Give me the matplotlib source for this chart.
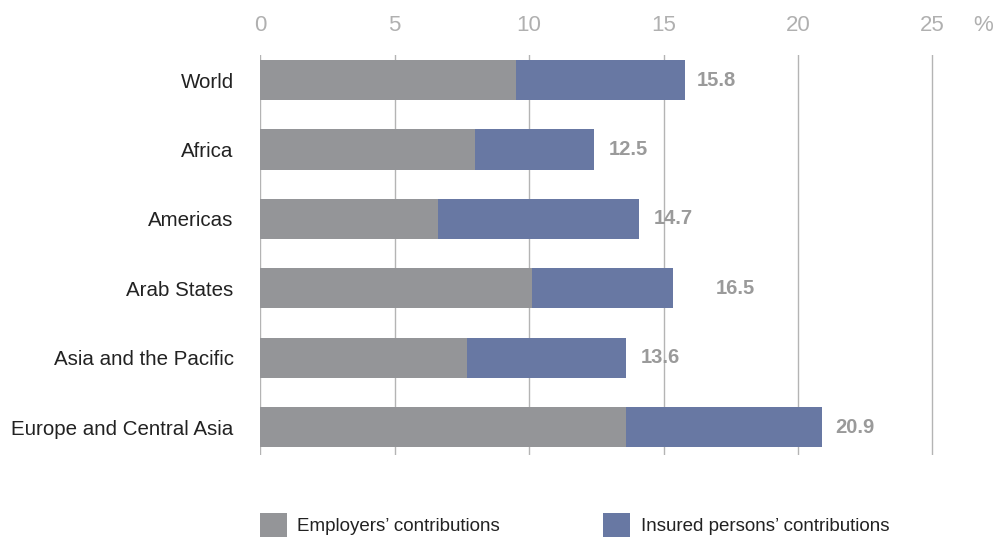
import matplotlib
matplotlib.use("Agg")
import matplotlib.pyplot as plt

plt.rcParams["font.family"] = ["Liberation Sans", "DejaVu Sans"]

regions = ["World", "Africa", "Americas", "Arab States",
           "Asia and the Pacific", "Europe and Central Asia"]
employers = [9.5, 8.0, 6.6, 10.1, 7.7, 13.6]
insured = [6.3, 4.4, 7.5, 5.25, 5.9, 7.3]
total_labels = ["15.8", "12.5", "14.7", "16.5", "13.6", "20.9"]
label_gap = [0.45, 0.55, 0.55, 1.6, 0.55, 0.5]
ticks = [0, 5, 10, 15, 20, 25]

grey = "#949598"
blue = "#6878a3"

fig = plt.figure(figsize=(9.98, 5.43), dpi=100)
# 26.9 px per unit, axes a little wider than 25 so the last gridline shows
ax = fig.add_axes([260 / 998, 1 - 455 / 543, 26.9 * 25.2 / 998, 400 / 543])

y = list(range(len(regions)))
b1 = ax.barh(y, employers, height=0.58, color=grey, zorder=2,
             label="Employers\u2019 contributions")
b2 = ax.barh(y, insured, left=employers, height=0.58, color=blue, zorder=2,
             label="Insured persons\u2019 contributions")

for i in y:
    tot = employers[i] + insured[i]
    ax.text(tot + label_gap[i], i, total_labels[i], va="center", ha="left",
            fontsize=14.5, fontweight="bold", color="#9a9a9a", zorder=3)

ax.set_xlim(0, 25.2)
ax.set_ylim(5.4, -0.36)
ax.set_xticks(ticks)
ax.xaxis.tick_top()
ax.tick_params(axis="x", length=0, pad=14, labelsize=16, labelcolor="#b0b0b0")
ax.tick_params(axis="y", length=0, pad=19, labelsize=14.8, labelcolor="#222222")
ax.set_yticks(y)
ax.set_yticklabels(regions)
ax.grid(axis="x", color="#b4b4b4", linewidth=1, zorder=0)
for s in ax.spines.values():
    s.set_visible(False)
ax.annotate("%", xy=(26.9, -0.36), xytext=(0, 14), textcoords="offset points",
            ha="center", va="bottom", fontsize=16, color="#b0b0b0",
            annotation_clip=False)

fig.legend(handles=[b1, b2], loc="lower left", bbox_to_anchor=(243 / 998, -0.02),
           ncol=2, frameon=False, fontsize=13.5, handlelength=1.45, handleheight=1.6,
           columnspacing=5.5, handletextpad=0.55, labelcolor="#222222")

fig.savefig("out.png", dpi=100)
